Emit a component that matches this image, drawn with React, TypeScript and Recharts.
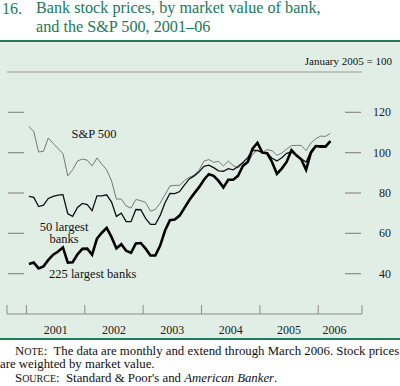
import { LineChart, Line, XAxis, YAxis, ReferenceLine } from 'recharts';

// Monthly index values, January 2005 = 100, Jan 2001 - Mar 2006
const startYear = 2001;
const sp500 = [
  113, 110.5, 100.3, 100.7, 107.3, 104.6, 102, 99.6, 88.5, 91.5, 95.9, 96.8,
  96.3, 93.4, 97.4, 94.3, 91.5, 86, 77, 77, 73.6, 72.5, 76.8, 76.2,
  75.3, 71, 71.8, 75, 79.2, 83.5, 83.8, 83.8, 86.2, 87.8, 88.9, 91.3,
  95.8, 96.6, 95.2, 95.7, 93.4, 95.8, 93.7, 92.4, 94.6, 94.9, 99, 101.5,
  100, 101.5, 101, 98.7, 99.8, 101.8, 103.5, 103.6, 103.6, 101, 104.8, 106.9,
  108.2, 108.1, 109.6,
];
const largest50 = [
  78.3, 77.8, 73.3, 74, 77.3, 78.3, 78.9, 79.2, 69.7, 68.4, 72.8, 74.8,
  74.2, 71.2, 78.6, 78.6, 79.1, 75.5, 68.4, 70, 65.8, 65.8, 71.8, 71.7,
  67.4, 64.4, 64.4, 68.9, 75.2, 79.8, 79.7, 80.7, 84, 87, 88.5, 90.5,
  93.2, 93.8, 92.6, 91, 90.8, 92.1, 91.5, 93.1, 95.1, 97.5, 101.2, 101,
  100, 99.8, 97.2, 95.9, 97.5, 99.7, 100.3, 98.7, 97, 95.4, 100.8, 103.5,
  103.5, 103.3, 105.7,
];
const largest225 = [
  44.8, 45.5, 42.6, 43.6, 46.8, 49.4, 51, 53, 45.5, 45.7, 49.6, 52.3,
  52.4, 49.4, 57.4, 60.3, 62.7, 58.1, 52.5, 54.6, 51.4, 50.3, 55, 55.2,
  52.4, 49, 49, 53.9, 61.4, 66.5, 66.8, 68.8, 72.6, 76.5, 79.8, 82.9,
  86.6, 89.3, 88.5, 86, 82.8, 86.6, 86.6, 88.5, 93.4, 95.4, 102, 104.9,
  100, 99.7, 95.4, 89.5, 92.1, 95.4, 101.3, 98.7, 96.7, 91.5, 100, 103.3,
  103, 103, 105.7,
];
const years = [2001, 2002, 2003, 2004, 2005, 2006];
const yTicks = [40, 60, 80, 100, 120];

const xMin = 2000 + 8 / 12;
const xMax = 2006.75;

const data = sp500.map((v, i) => ({
  t: startYear + (i + 0.5) / 12,
  sp: v,
  b50: largest50[i],
  b225: largest225[i],
}));

const boundaryTicks = [xMin, ...years, xMax];
const labelTicks = years.map((y) => Math.min(y + 0.5, 2006.28));
const labelFor = (v: number) => String(Math.floor(v));

const serif = '"Liberation Serif", "Times New Roman", serif';
const green = '#23795a';
const tickGray = '#8c8c8c';

const PLOT_LEFT = 7;

const XTick = (props: any) => {
  const { x, y, payload } = props;
  const v = payload.value as number;
  if (labelTicks.includes(v)) {
    return (
      <text x={x} y={y + 20} textAnchor="middle" fontSize={12} fontFamily={serif} fill="#222">
        {labelFor(v)}
      </text>
    );
  }
  return <line x1={x} x2={x} y1={y} y2={y - 9} stroke={tickGray} strokeWidth={1} />;
};

const YTick = (props: any) => {
  const { x, y, payload } = props;
  return (
    <g>
      <line x1={PLOT_LEFT + 1} x2={PLOT_LEFT + 17} y1={y} y2={y} stroke={tickGray} strokeWidth={1.2} />
      <line x1={x - 17} x2={x - 1} y1={y} y2={y} stroke={tickGray} strokeWidth={1.2} />
      <text x={x + 29} y={y} dy={4} textAnchor="end" fontSize={12} fontFamily={serif} fill="#222">
        {payload.value}
      </text>
    </g>
  );
};

const labelStyle = { fontSize: 12.5, fontFamily: serif, fill: '#111' };
const smallCaps = { fontSize: 10 };

export default function App() {
  return (
    <div style={{ position: 'absolute', left: 0, top: 0, width: 400, height: 386, background: '#fff', fontFamily: serif, overflow: 'hidden' }}>
      <div style={{ position: 'absolute', top: -1.5, left: 2, fontSize: 16, lineHeight: '19px', color: green, whiteSpace: 'nowrap' }}>16.</div>
      <div style={{ position: 'absolute', top: -1.5, left: 36, fontSize: 16.2, lineHeight: '19px', color: green, whiteSpace: 'nowrap' }}>
        Bank stock prices, by market value of bank,
        <br />
        and the S&amp;P 500, 2001–06
      </div>

      <div style={{ position: 'absolute', top: 39.5, left: 0, width: 400, height: 296.5, background: '#e0eee6', borderTop: `2px solid ${green}`, borderBottom: `2px solid ${green}` }} />
      <div style={{ position: 'absolute', top: 54.5, right: 8, fontSize: 11, lineHeight: '13.5px', color: '#111', whiteSpace: 'nowrap' }}>
        January 2005 = 100
      </div>

      <div style={{ position: 'absolute', left: 0, top: 0 }}>
        <LineChart width={400} height={386} data={data} margin={{ top: 72, left: 7, right: 8, bottom: 42 }}>
          <XAxis
            dataKey="t"
            type="number"
            domain={[xMin, xMax]}
            ticks={[...boundaryTicks, ...labelTicks].sort((a, b) => a - b)}
            interval={0}
            height={30}
            tickSize={0}
            tickMargin={0}
            tickLine={false}
            axisLine={{ stroke: tickGray, strokeWidth: 1 }}
            tick={<XTick />}
          />
          <YAxis
            orientation="right"
            type="number"
            domain={[20, 140]}
            ticks={yTicks}
            interval={0}
            width={30}
            tickSize={0}
            tickMargin={0}
            tickLine={false}
            axisLine={false}
            tick={<YTick />}
          />
          <ReferenceLine y={140} stroke="#9a9a9a" strokeWidth={1} />
          <Line type="linear" dataKey="sp" stroke="#787878" strokeWidth={1} dot={false} isAnimationActive={false} />
          <Line type="linear" dataKey="b50" stroke="#111" strokeWidth={1.3} dot={false} isAnimationActive={false} />
          <Line type="linear" dataKey="b225" stroke="#000" strokeWidth={2.6} dot={false} isAnimationActive={false} />
        </LineChart>
      </div>

      <svg width={400} height={386} style={{ position: 'absolute', left: 0, top: 0, pointerEvents: 'none' }}>
        <text x={94} y={138} textAnchor="middle" style={labelStyle}>S&amp;P 500</text>
        <text x={64} y={230.5} textAnchor="middle" style={labelStyle}>50 largest</text>
        <text x={64} y={242.5} textAnchor="middle" style={labelStyle}>banks</text>
        <text x={49} y={277.5} style={labelStyle}>225 largest banks</text>
      </svg>

      <div style={{ position: 'absolute', top: 344.9, left: 0, fontSize: 12.8, lineHeight: '13.5px', color: '#111', whiteSpace: 'nowrap' }}>
        <div style={{ paddingLeft: 15 }}>
          N<span style={smallCaps}>OTE</span>:{'\u00a0 '}The data are monthly and extend through March 2006. Stock prices
        </div>
        <div>are weighted by market value.</div>
        <div style={{ paddingLeft: 15 }}>
          S<span style={smallCaps}>OURCE</span>:{'\u00a0 '}Standard &amp; Poor's and <i>American Banker</i>.
        </div>
      </div>
    </div>
  );
}
